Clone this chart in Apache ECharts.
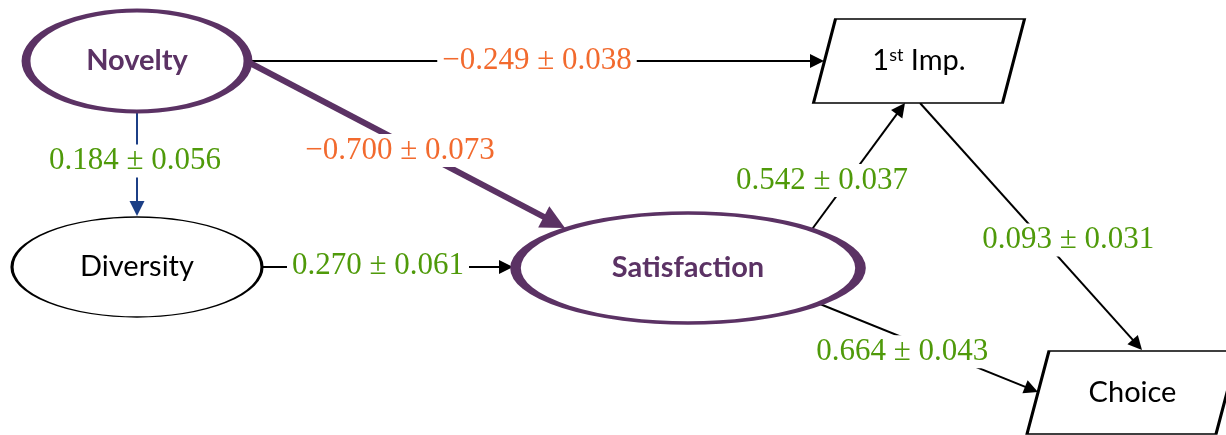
<!DOCTYPE html>
<html>
<head>
<meta charset="utf-8">
<script src="https://cdn.jsdelivr.net/npm/echarts@6/dist/echarts.min.js"></script>
<style>
  html, body { margin: 0; padding: 0; background: #fff; }
  #main { width: 1226px; height: 435px; }
</style>
</head>
<body>
<div id="main"></div>
<script>
// model data
const nodeNames = ['Novelty', 'Diversity', 'Satisfaction', '1st Imp.', 'Choice'];
const edgeFrom = ['Novelty', 'Novelty', 'Novelty', 'Diversity', 'Satisfaction', '1st Imp.', 'Satisfaction'];
const edgeTo = ['1st Imp.', 'Satisfaction', 'Diversity', 'Satisfaction', '1st Imp.', 'Choice', 'Choice'];
const edgeEst = [-0.249, -0.700, 0.184, 0.270, 0.542, 0.093, 0.664];
const edgeErr = [0.038, 0.073, 0.056, 0.061, 0.037, 0.031, 0.043];

// layout (pixels) - node centre, size, kind
const nodeLayout = {
  'Novelty':      { c: [137, 61],    size: [222, 101], shape: 'ellipse', kind: 'latent' },
  'Diversity':    { c: [137, 267],   size: [250, 100], shape: 'ellipse', kind: 'plain' },
  'Satisfaction': { c: [688, 268],   size: [345, 110], shape: 'ellipse', kind: 'latent' },
  '1st Imp.':     { c: [919, 61],    size: [211, 84],  shape: 'para',    kind: 'plain' },
  'Choice':       { c: [1132.5, 392.5], size: [211, 83], shape: 'para',  kind: 'plain' }
};
// edge anchors as offsets from node centres, and label spot [t, dx, dy]
const edgeAnchors = [
  [[113, 0], [-95, 0]],
  [[113, 2], [-123, -40]],
  [[0, 51], [0, -51]],
  [[126, 0], [-175, -1]],
  [[122, -36], [-14, 42]],
  [[1, 42], [9.5, -42.5]],
  [[122, 32], [-94.5, -0.5]]
];
const edgeLabelSpot = [
  [0.5, 0, 0],
  [0.476, 0, 9],
  [0.47, -2, 0],
  [0.46, 0, -1],
  [0.4, -26, 0],
  [0.555, 25, 0],
  [0.4, 1, 15]
];
const edgeKind = ['black', 'purple', 'blue', 'black', 'black', 'black', 'black'];

const PURPLE = '#5B3264';
const ORANGE = '#F26A2E';
const GREEN = '#4F9A0A';
const BLUE = '#1C3F86';
const edgeStyle = {
  black:  { color: '#000', width: 2, arrow: 14 },
  purple: { color: PURPLE, width: 6, arrow: 24 },
  blue:   { color: BLUE, width: 2, arrow: 15 }
};

const chart = echarts.init(document.getElementById('main'), null, { renderer: 'canvas' });

function fmt(est, err) {
  const s = est < 0 ? '\u2212' : '';
  return s + Math.abs(est).toFixed(3) + ' \u00b1 ' + err.toFixed(3);
}

const paraPath = 'path://M22,0 L211,0 L189,84 L0,84 Z';

const nodeData = nodeNames.map(function (name) {
  const l = nodeLayout[name];
  const latent = l.kind === 'latent';
  return {
    name: name,
    value: l.c,
    symbol: l.shape === 'ellipse' ? 'circle' : paraPath,
    symbolSize: l.size,
    itemStyle: {
      color: '#fff',
      opacity: 1,
      borderColor: latent ? PURPLE : '#000',
      borderWidth: latent ? 6 : 2
    },
    label: {
      color: latent ? PURPLE : '#000',
      fontWeight: latent ? 'bold' : 'normal'
    }
  };
});

function anchors(i) {
  const a = nodeLayout[edgeFrom[i]].c, b = nodeLayout[edgeTo[i]].c;
  return [
    [a[0] + edgeAnchors[i][0][0], a[1] + edgeAnchors[i][0][1]],
    [b[0] + edgeAnchors[i][1][0], b[1] + edgeAnchors[i][1][1]]
  ];
}

const lineSeries = edgeFrom.map(function (from, i) {
  const p = anchors(i), p0 = p[0], p1 = p[1];
  const st = edgeStyle[edgeKind[i]];
  const dx = p1[0] - p0[0], dy = p1[1] - p0[1];
  const len = Math.sqrt(dx * dx + dy * dy);
  const end = [p1[0] - dx / len * st.arrow / 2, p1[1] - dy / len * st.arrow / 2];
  return {
    type: 'lines',
    coordinateSystem: 'cartesian2d',
    silent: true,
    z: 2,
    symbol: ['none', 'triangle'],
    symbolSize: st.arrow,
    lineStyle: { color: st.color, width: st.width, opacity: 1, curveness: 0 },
    data: [{ coords: [p0, end] }]
  };
});

const labelData = edgeFrom.map(function (from, i) {
  const p = anchors(i), p0 = p[0], p1 = p[1];
  const s = edgeLabelSpot[i];
  return {
    value: [p0[0] + (p1[0] - p0[0]) * s[0] + s[1], p0[1] + (p1[1] - p0[1]) * s[0] + s[2]],
    text: fmt(edgeEst[i], edgeErr[i]),
    label: { color: edgeEst[i] < 0 ? ORANGE : GREEN }
  };
});

chart.setOption({
  animation: false,
  backgroundColor: '#fff',
  grid: { left: 0, right: 0, top: 0, bottom: 0 },
  xAxis: { type: 'value', min: 0, max: 1226, show: false },
  yAxis: { type: 'value', min: 0, max: 435, inverse: true, show: false },
  series: lineSeries.concat([
    {
      type: 'scatter',
      silent: true,
      z: 5,
      data: nodeData,
      itemStyle: { opacity: 1 },
      label: {
        show: true,
        position: 'inside',
        fontFamily: 'Lato',
        fontSize: 29,
        formatter: function (p) {
          if (p.name === '1st Imp.') return '{n|1}{sup|st}{n| Imp.}';
          return p.name;
        },
        rich: {
          n: { fontFamily: 'Lato', fontSize: 29, color: '#000' },
          sup: { fontFamily: 'Lato', fontSize: 18, color: '#000', verticalAlign: 'top', padding: [0, 0, 12, 0] }
        }
      }
    },
    {
      type: 'scatter',
      silent: true,
      z: 8,
      symbolSize: 1,
      itemStyle: { opacity: 0 },
      data: labelData,
      label: {
        show: true,
        position: 'inside',
        opacity: 1,
        fontFamily: 'Liberation Serif',
        fontSize: 31,
        backgroundColor: '#fff',
        padding: [1, 5],
        formatter: function (p) { return p.data.text; }
      }
    }
  ])
});
</script>
</body>
</html>
